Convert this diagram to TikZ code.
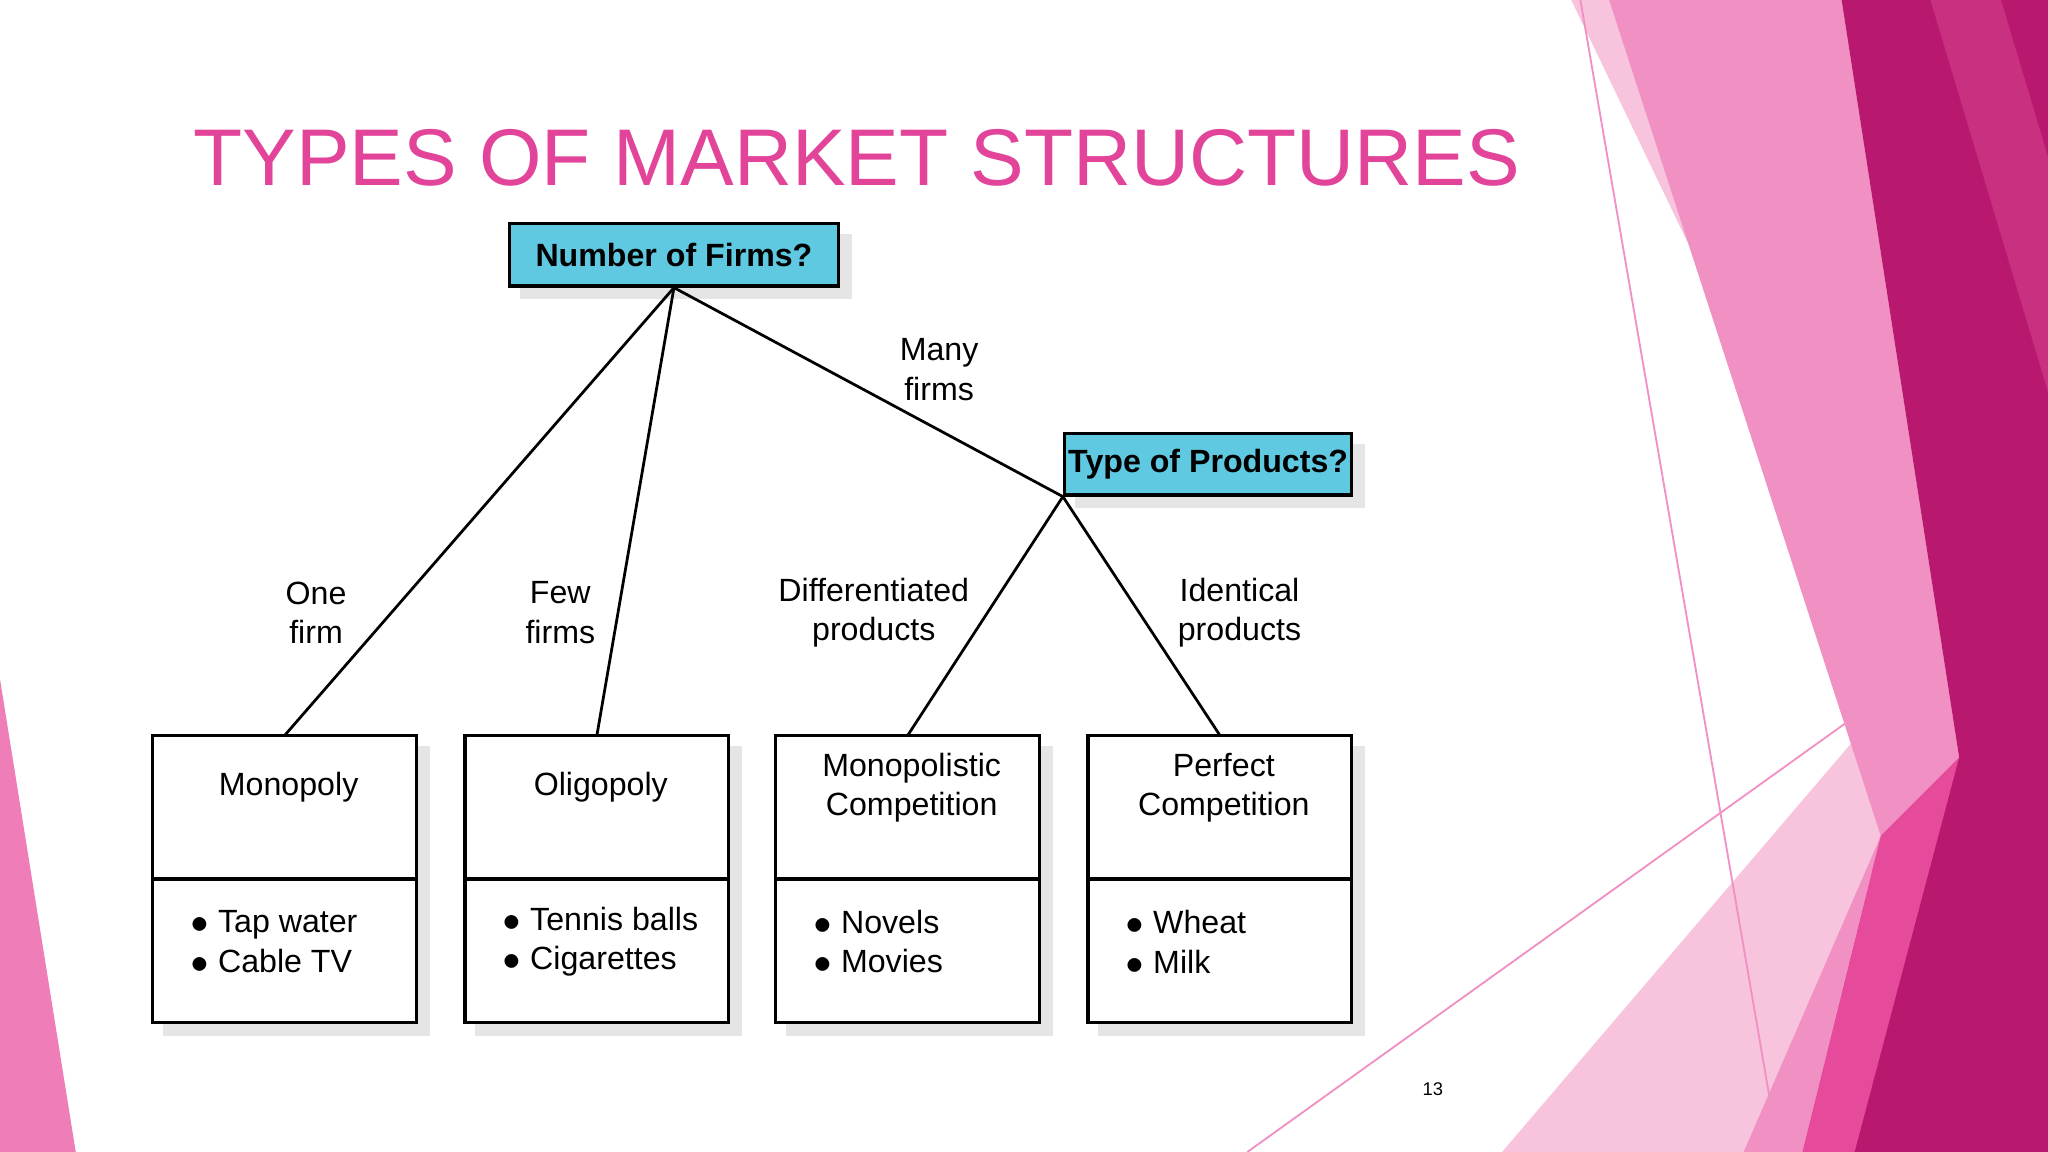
\documentclass[tikz,border=0pt]{standalone}
\usepackage{fontspec}
\setmainfont{Liberation Sans}
\definecolor{titlepink}{HTML}{E2449A}
\definecolor{hdrblue}{HTML}{5FC9E2}
\definecolor{pk1}{HTML}{F7C3DD}
\definecolor{pk2}{HTML}{F090C3}
\definecolor{pk3}{HTML}{B8196F}
\definecolor{pk4}{HTML}{C9307F}
\definecolor{pk5}{HTML}{EE7DB8}
\definecolor{pk6}{HTML}{E64A9B}
\begin{document}
\begin{tikzpicture}[x=0.01cm,y=-0.01cm,
  txt/.style={font=\fontsize{7}{8.6}\selectfont,align=center,inner sep=0pt},
  hdr/.style={draw=black,line width=0.7pt,fill=hdrblue,font=\fontsize{7}{8.6}\selectfont\bfseries,inner sep=0pt},
  link/.style={line width=0.6pt},
  shade/.style={fill=black!10}]
\useasboundingbox (0,0) rectangle (1568,882);
\fill[white] (0,0) rectangle (1568,882);
% decorations
\fill[pk1] (1203,0) -- (1568,0) -- (1568,882) -- (1150,882) -- (1455,525) -- cycle;
\fill[pk2] (1232,0) -- (1410,0) -- (1500,580) -- (1440,882) -- (1335,882) -- (1440,640) -- cycle;
\fill[pk6] (1440,640) -- (1500,580) -- (1440,882) -- (1380,882) -- cycle;
\fill[pk3] (1410,0) -- (1568,0) -- (1568,882) -- (1420,882) -- (1500,580) -- cycle;
\fill[pk4] (1478,0) -- (1532,0) -- (1568,120) -- (1568,300) -- cycle;
\fill[pk5] (0,520) -- (58,882) -- (0,882) -- cycle;
\draw[pk2,line width=0.4pt] (955,882) -- (1460,520);
\draw[pk2,line width=0.4pt] (1210,0) -- (1362,882);
% title
\node[font=\fontsize{17.5}{20}\selectfont,text=titlepink,inner sep=0pt] (title) at (656,121) {TYPES OF MARKET STRUCTURES};
% header boxes
\fill[shade] (398,179) rectangle (652,229);
\node[hdr,minimum width=252*0.01cm,minimum height=48*0.01cm] (nf) at (516,195) {Number of Firms?};
\fill[shade] (823,340) rectangle (1045,389);
\node[hdr,minimum width=220*0.01cm,minimum height=47*0.01cm] (tp) at (925,355.5) {Type of Products?};
% bottom boxes
\foreach \n/\x/\top/\items in {
  mono/218/{Monopoly}/{$\bullet$ Tap water\\$\bullet$ Cable TV},
  oli/457/{Oligopoly}/{$\bullet$ Tennis balls\\$\bullet$ Cigarettes},
  mc/695/{Monopolistic\\Competition}/{$\bullet$ Novels\\$\bullet$ Movies},
  pc/934/{Perfect\\Competition}/{$\bullet$ Wheat\\$\bullet$ Milk}}{
  \fill[shade] (\x-101+8,571) rectangle (\x+101+10,793);
  \fill[white] (\x-101,563) rectangle (\x+101,783);
  \draw[line width=0.7pt] (\x-101,563) rectangle (\x+101,783);
  \draw[line width=0.7pt] (\x-101,673) -- (\x+101,673);
  \coordinate (\n) at (\x,563);
  \node[txt] (\n-t) at (\x+3,603) {\top};
  \node[txt,align=left,anchor=west] (\n-i) at (\x-73,721) {\items};
}
\node[txt] at (221,617) {};
% connectors
\draw[link] (nf.south) -- (mono);
\draw[link] (nf.south) -- (oli);
\draw[link] (nf.south) -- (tp.south west);
\draw[link] (tp.south west) -- (mc);
\draw[link] (tp.south west) -- (pc);
% labels
\node[txt] (l1) at (242,469) {One\\firm};
\node[txt] (l2) at (429,469) {Few\\firms};
\node[txt] (l3) at (719,283) {Many\\firms};
\node[txt] (l4) at (669,469) {Differentiated\\products};
\node[txt] (l5) at (949,469) {Identical\\products};
\node[font=\fontsize{4}{5}\selectfont,inner sep=0pt] (pg) at (1097,834) {13};
\end{tikzpicture}
\end{document}
